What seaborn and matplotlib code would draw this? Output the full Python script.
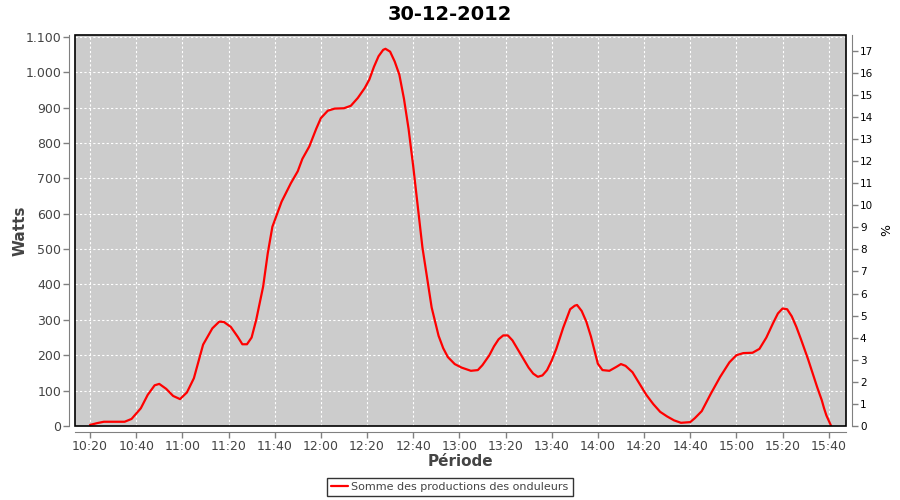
import seaborn as sns
import matplotlib
matplotlib.use('Agg')
from matplotlib import pyplot as plt
from matplotlib import dates as mdates
from matplotlib.ticker import FuncFormatter, MultipleLocator
from matplotlib.patches import Rectangle
import pandas as pd

title = "30-12-2012"
series_name = "Somme des productions des onduleurs"

# heures et puissances
heures = ["10:20", "10:23", "10:26", "10:30", "10:35", "10:38", "10:42", "10:45", "10:48", "10:50",
          "10:53", "10:56", "10:59", "11:02", "11:05", "11:09", "11:13", "11:16", "11:18", "11:21",
          "11:24", "11:26", "11:28", "11:30", "11:32", "11:35", "11:37", "11:39", "11:43", "11:47",
          "11:50", "11:52", "11:55", "11:58", "12:00", "12:03", "12:06", "12:10", "12:13", "12:16",
          "12:19", "12:21", "12:23", "12:25", "12:27", "12:28", "12:30", "12:32", "12:34", "12:36",
          "12:38", "12:40", "12:42", "12:44", "12:46", "12:48", "12:51", "12:53", "12:55", "12:58",
          "13:01", "13:05", "13:08", "13:10", "13:13", "13:15", "13:17", "13:19", "13:21", "13:23",
          "13:25", "13:28", "13:30", "13:32", "13:34", "13:36", "13:38", "13:40", "13:42", "13:45",
          "13:48", "13:50", "13:51", "13:53", "13:55", "13:57", "14:00", "14:02", "14:05", "14:08",
          "14:10", "14:12", "14:15", "14:18", "14:21", "14:24", "14:27", "14:30", "14:33", "14:36",
          "14:40", "14:42", "14:45", "14:49", "14:53", "14:57", "15:00", "15:03", "15:07", "15:10",
          "15:13", "15:16", "15:18", "15:20", "15:22", "15:24", "15:26", "15:28", "15:31", "15:33",
          "15:35", "15:37", "15:38", "15:39", "15:41"]
watts = [3, 8, 12, 12, 12, 20, 50, 88, 115, 119,
         105, 85, 76, 95, 135, 230, 276, 295, 294, 280,
         252, 231, 231, 250, 300, 394, 488, 563, 634, 686,
         720, 755, 790, 840, 870, 891, 897, 898, 905, 927,
         955, 979, 1015, 1045, 1063, 1066, 1058, 1030, 993, 925,
         840, 735, 620, 505, 420, 335, 255, 220, 195, 175,
         165, 156, 158, 172, 200, 225, 245, 256, 256, 242,
         220, 187, 165, 148, 139, 143, 158, 185, 218, 278,
         330, 340, 342, 325, 295, 253, 176, 158, 156, 167,
         175, 170, 152, 120, 88, 62, 40, 27, 16, 9,
         11, 22, 42, 92, 139, 180, 200, 206, 207, 218,
         250, 292, 318, 332, 330, 310, 280, 245, 190, 150,
         110, 73, 50, 30, 1]

pct_ticks = list(range(0, 18))

df = pd.DataFrame({'heure': pd.to_datetime(["2012-12-30 " + h for h in heures]),
                   'watts': watts})

sns.set_style("white")
plt.rcParams['font.family'] = ['DejaVu Sans']

fig = plt.figure(figsize=(9, 5), dpi=100)
ax = fig.add_axes([75 / 900, 74 / 500, 771 / 900, 391 / 500])
ax.set_facecolor('#cccccc')

sns.lineplot(data=df, x='heure', y='watts', color='#ff0000', linewidth=1.6,
             ax=ax, label=series_name, legend=False)

grey = '#808080'
txt = '#444444'

ax.set_ylim(0, 1105)
ax.yaxis.set_major_locator(MultipleLocator(100))
ax.yaxis.set_major_formatter(FuncFormatter(lambda v, p: f"{int(v):,}".replace(',', '.')))
ax.set_xlim(pd.Timestamp("2012-12-30 10:13:30"), pd.Timestamp("2012-12-30 15:47:30"))
ax.xaxis.set_major_locator(mdates.MinuteLocator(byminute=[0, 20, 40]))
ax.xaxis.set_major_formatter(mdates.DateFormatter('%H:%M'))

ax.grid(True, color='white', linestyle=(0, (2, 2)), linewidth=0.8)
for s in ['top', 'right']:
    ax.spines[s].set_visible(False)
for s in ['left', 'bottom']:
    ax.spines[s].set_position(('outward', 4))
    ax.spines[s].set_color(grey)
ax.tick_params(axis='both', which='major', direction='out', length=4, width=1,
               color=grey, labelcolor=txt, labelsize=9, left=True, bottom=True, pad=2)
ax.add_patch(Rectangle((0, 0), 1, 1, transform=ax.transAxes, fill=False,
                       edgecolor='black', linewidth=1.2, clip_on=False, zorder=5))

ax.set_xlabel("Période", fontsize=11, fontweight='bold', color=txt, labelpad=1)
ax.set_ylabel("Watts", fontsize=11, fontweight='bold', color=txt)
ax.yaxis.set_label_coords(-0.062, 0.5)
fig.text(0.5, 0.972, title, ha='center', va='center', fontsize=14,
         fontweight='bold', color='black')

ax2 = ax.twinx()
ax2.set_ylim(0, 1105 * 17.63 / 1100)
ax2.set_yticks(pct_ticks)
for s in ['top', 'left', 'bottom']:
    ax2.spines[s].set_visible(False)
ax2.spines['right'].set_position(('outward', 4))
ax2.spines['right'].set_color(grey)
ax2.tick_params(axis='y', direction='out', length=4, width=1, color=grey,
                labelcolor='black', labelsize=7.5, right=True, pad=2)
ax2.set_ylabel("%", fontsize=9, color='black', labelpad=5)

leg = fig.legend(loc='center', bbox_to_anchor=(0.5, 0.026), frameon=True,
                 fancybox=False, fontsize=8, handlelength=1.5,
                 handletextpad=0.3, borderpad=0.35)
leg.get_frame().set_edgecolor('black')
leg.get_frame().set_linewidth(1)
for t in leg.get_texts():
    t.set_color(txt)

fig.savefig('out.png', dpi=100, facecolor='white')
